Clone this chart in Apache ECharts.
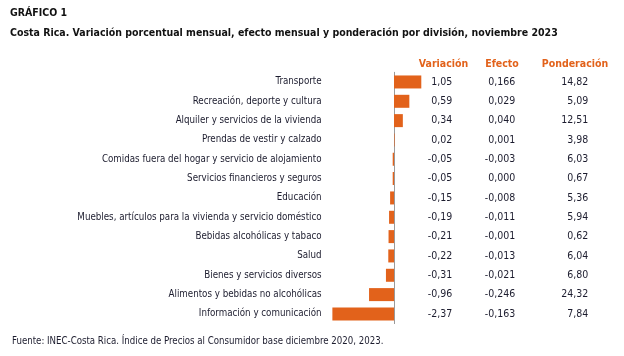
<!DOCTYPE html>
<html><head><meta charset="utf-8">
<script src="https://cdn.jsdelivr.net/npm/echarts@6/dist/echarts.min.js"></script>
<style>html,body{margin:0;padding:0;background:#fff}#c{width:624px;height:356px}</style>
</head><body><div id="c"></div>
<script>
const categories = ['Transporte','Recreación, deporte y cultura','Alquiler y servicios de la vivienda','Prendas de vestir y calzado','Comidas fuera del hogar y servicio de alojamiento','Servicios financieros y seguros','Educación','Muebles, artículos para la vivienda y servicio doméstico','Bebidas alcohólicas y tabaco','Salud','Bienes y servicios diversos','Alimentos y bebidas no alcohólicas','Información y comunicación'];
const variacion = [1.05, 0.59, 0.34, 0.02, -0.05, -0.05, -0.15, -0.19, -0.21, -0.22, -0.31, -0.96, -2.37];
const efecto = [0.166, 0.029, 0.040, 0.001, -0.003, 0.000, -0.008, -0.011, -0.001, -0.013, -0.021, -0.246, -0.163];
const ponderacion = [14.82, 5.09, 12.51, 3.98, 6.03, 0.67, 5.36, 5.94, 0.62, 6.04, 6.80, 24.32, 7.84];
const headers = ['Variación', 'Efecto', 'Ponderación'];
const titleText = 'GRÁFICO 1';
const subtitleText = 'Costa Rica. Variación porcentual mensual, efecto mensual y ponderación por división, noviembre 2023';
const sourceText = 'Fuente: INEC-Costa Rica. Índice de Precios al Consumidor base diciembre 2020, 2023.';

const FONT = '"DejaVu Sans Condensed","Liberation Sans Narrow",sans-serif';
const ORANGE = '#E2621B';
const TXT = '#1c1c2e';
const fmt = (v, d) => v.toFixed(d).replace('.', ',');

function valueAxis(data, margin) {
  return {
    type: 'category', gridIndex: 0, inverse: true, position: 'right',
    data: data,
    axisLine: {show: false}, axisTick: {show: false}, splitLine: {show: false},
    axisLabel: {align: 'right', margin: margin, fontFamily: FONT, fontSize: 10.5, color: TXT}
  };
}
function header(text, cx) {
  return {text: text, left: cx, top: 59, padding: 0, textAlign: 'center',
    textStyle: {fontFamily: FONT, fontSize: 10.5, fontWeight: 'bold', color: ORANGE}};
}

const chart = echarts.init(document.getElementById('c'), null, {renderer: 'canvas'});
chart.setOption({
  animation: false,
  backgroundColor: '#fff',
  title: [
    {text: titleText, left: 10, top: 8, padding: 0, textStyle: {fontFamily: FONT, fontSize: 10.5, fontWeight: 'bold', color: '#111'}},
    {text: subtitleText, left: 10, top: 28, padding: 0, textStyle: {fontFamily: FONT, fontSize: 10.5, fontWeight: 'bold', color: '#111'}},
    header(headers[0], 443.5),
    header(headers[1], 502),
    header(headers[2], 575),
    {text: sourceText, left: 12, top: 336, padding: 0, textStyle: {fontFamily: FONT, fontSize: 9.6, fontWeight: 'normal', color: TXT}}
  ],
  grid: {left: 331.6, width: 93.6, top: 72.3, bottom: 32.4, containLabel: false, outerBoundsMode: 'none'},
  xAxis: {type: 'value', min: -2.4, max: 1.2,
    axisLine: {show: false}, axisTick: {show: false}, axisLabel: {show: false}, splitLine: {show: false}},
  yAxis: [
    {type: 'category', inverse: true, data: categories,
      axisLine: {show: true, onZero: true, lineStyle: {color: '#9a9a9a', width: 1}},
      axisTick: {show: false},
      axisLabel: {margin: 10, fontFamily: FONT, fontSize: 9.7, color: TXT}},
    valueAxis(variacion.map(v => fmt(v, 2)), 27),
    valueAxis(efecto.map(v => fmt(v, 3)), 90),
    valueAxis(ponderacion.map(v => fmt(v, 2)), 163)
  ],
  series: [{
    type: 'bar', yAxisIndex: 0, data: variacion, barWidth: 13,
    itemStyle: {color: ORANGE}
  }]
});
</script></body></html>
